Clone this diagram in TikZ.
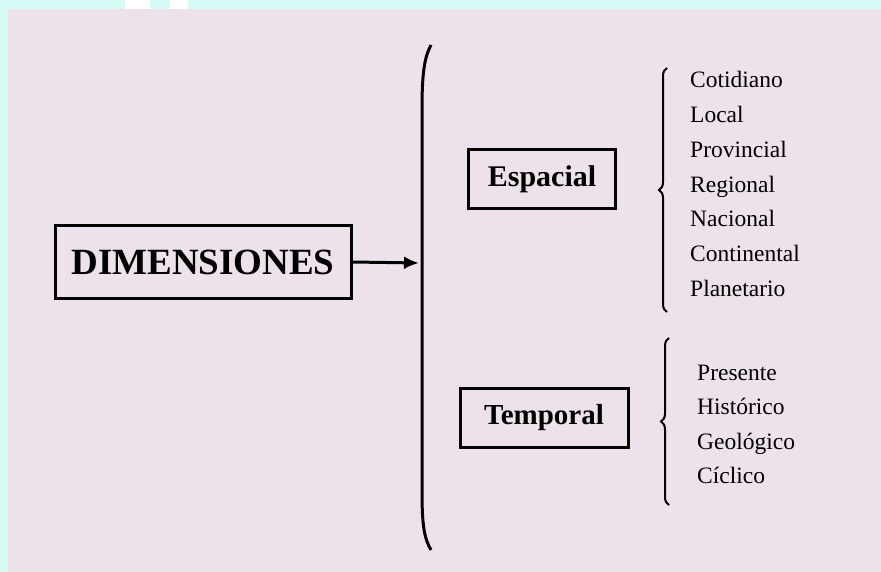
\documentclass[tikz,border=0pt]{standalone}
\usepackage{fontspec}
\setmainfont{Liberation Serif}
\usetikzlibrary{arrows.meta,decorations.pathreplacing}
\definecolor{fondo}{RGB}{214,250,246}
\definecolor{rosa}{RGB}{237,226,234}
\tikzset{
  caja/.style={draw,line width=3pt,font=\bfseries,inner sep=0pt},
  item/.style={anchor=base west,inner sep=0pt,font=\fontsize{23.5}{26}\selectfont},
  llave/.style={decorate,decoration={brace,amplitude=8pt},line width=2pt}
}
\begin{document}
\begin{tikzpicture}[x=1pt,y=-1pt]
    % fondo
    \fill[fondo] (0,0) rectangle (881,572);
    \fill[white] (125,0) rectangle (150,9);
    \fill[white] (170,0) rectangle (188,9);
    \fill[rosa] (8,9) rectangle (881,572);
    \useasboundingbox (0,0) rectangle (881,572);
    % cajas
    \node[caja,minimum width=296,minimum height=72,font=\bfseries\fontsize{37}{40}\selectfont] (dim) at (203,262) {DIMENSIONES};
    \node[caja,minimum width=147,minimum height=59,font=\bfseries\fontsize{30}{32}\selectfont] (esp) at (542,179.5) {Espacial};
    \node[caja,minimum width=168,minimum height=59,font=\bfseries\fontsize{29}{32}\selectfont] (tem) at (544,417.5) {Temporal};
    % llave grande
    \coordinate (llegada) at (419,263);
    \draw[line width=3pt] (431,45) .. controls (424,58) and (422,75) .. (422,110) -- (422,490) .. controls (422,525) and (424,538) .. (431,550);
    \draw[line width=3pt,-{Latex[length=15pt,width=13pt]}] (dim.east) -- (llegada);
    % llaves chicas
    \draw[llave] (667,312) -- (667,68);
    \draw[llave] (669,505) -- (669,338);
    % listas
    \foreach \t [count=\i] in {Cotidiano,Local,Provincial,Regional,Nacional,Continental,Planetario}
        \node[item] (e\i) at (690,{88+34.7*(\i-1)}) {\t};
    \foreach \t [count=\i] in {Presente,Histórico,Geológico,Cíclico}
        \node[item] (t\i) at (697,{380+34.6*(\i-1)}) {\t};
\end{tikzpicture}
\end{document}
